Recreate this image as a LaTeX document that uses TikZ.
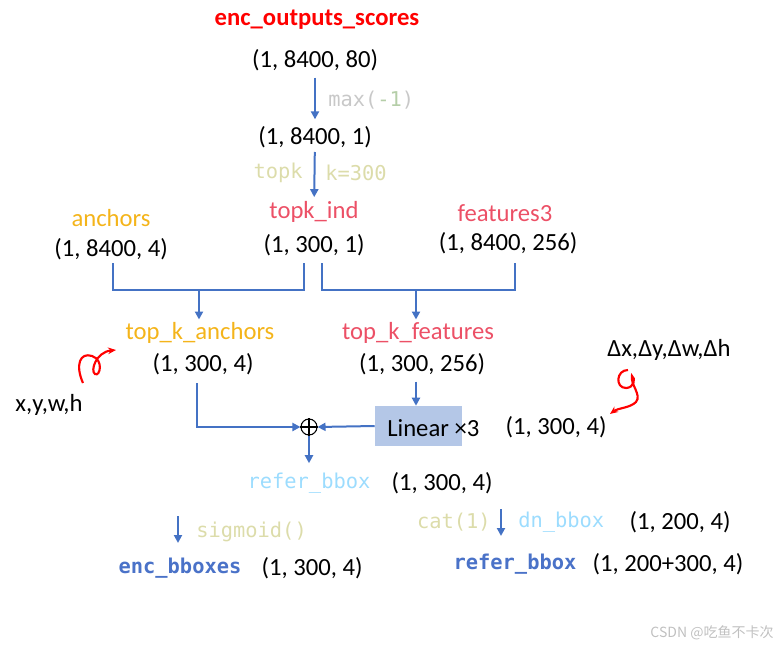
\documentclass[tikz,border=0pt]{standalone}
\usepackage{fontspec}
\setmainfont{Carlito}
\newfontfamily\codefont{DejaVu Sans Mono}
\newfontfamily\cjkfont{Noto Sans CJK SC}
\usetikzlibrary{arrows.meta,calc}
\definecolor{scorered}{HTML}{FF0000}
\definecolor{pinkred}{HTML}{EC5066}
\definecolor{anchororg}{HTML}{F4B41A}
\definecolor{flowblue}{HTML}{4472C4}
\definecolor{boldblue}{HTML}{4A72C8}
\definecolor{lightblue}{HTML}{9CDCFE}
\definecolor{codegray}{HTML}{C8C8C8}
\definecolor{codegreen}{HTML}{B5CEA8}
\definecolor{codekhaki}{HTML}{DCDCAA}
\definecolor{linfill}{HTML}{B4C7E7}
\definecolor{wmgray}{HTML}{C0C0C0}
\tikzset{
  shp/.style={font=\fontsize{18.5}{22}\selectfont, inner sep=0pt},
  code/.style={font=\codefont\fontsize{15.3}{18}\selectfont, inner sep=0pt},
  codebf/.style={font=\codefont\bfseries\fontsize{15.3}{18}\selectfont, inner sep=0pt},
  flow/.style={draw=flowblue, line width=1.5pt, -{Triangle[length=6pt,width=6pt]}},
  link/.style={draw=flowblue, line width=1.5pt},
  sh/.style={shorten <=#1, shorten >=#1},
}
\begin{document}
\begin{tikzpicture}[x=0.75pt,y=-0.75pt]
\useasboundingbox (0,0) rectangle (783,646);
% scores -> max -> topk
\node[shp,font=\bfseries\fontsize{18.5}{22}\selectfont,text=scorered] (scores) at (317,20) {enc\_outputs\_scores};
\node[shp] (s80) at (315,60) {(1, 8400, 80)};
\node[shp] (s1) at (315,137) {(1, 8400, 1)};
\draw[flow,sh=5pt] (s80) -- (s1);
\node[code,anchor=west] (maxop) at (328,100) {\textcolor{codegray}{max(}\textcolor{codegreen}{-1}\textcolor{codegray}{)}};
\node[shp,text=pinkred] (ind) at (314,212) {topk\_ind};
\draw[flow,shorten <=3pt,shorten >=3pt] (s1) -- (ind);
\node[code,text=codekhaki,anchor=east] (topk) at (303,173) {topk};
\node[code,text=codekhaki,anchor=west] (kval) at (325,173) {k=300};
\node[shp] (ind300) at (314,245) {(1, 300, 1)};
% inputs
\node[shp,text=anchororg] (anc) at (111,218) {anchors};
\node[shp] (anc8400) at (111,249) {(1, 8400, 4)};
\node[shp,text=pinkred] (feat) at (505,213) {features3};
\node[shp] (feat8400) at (508,243) {(1, 8400, 256)};
% gather
\coordinate (ja) at (199,290);
\coordinate (jf) at (416,290);
\draw[link] ([shift={(2,14)}]anc8400.center) |- (ja) -| ([shift={(-10,18)}]ind300.center);
\draw[link] ([shift={(8,18)}]ind300.center) |- (jf) -| ([shift={(7,20)}]feat8400.center);
\node[shp,text=anchororg] (tka) at (200,333) {top\_k\_anchors};
\node[shp] (tka300) at (203,364) {(1, 300, 4)};
\node[shp,text=pinkred] (tkf) at (418,333) {top\_k\_features};
\node[shp] (tkf256) at (422,364) {(1, 300, 256)};
\draw[flow,shorten >=2pt] (ja) -- (ja |- tka.north);
\draw[flow,shorten >=2pt] (jf) -- (jf |- tkf.north);
% head
\node[fill=linfill,minimum width=65.25pt,minimum height=30pt,inner sep=0pt] (linbox) at (418.5,426) {};
\node[shp,anchor=west] (lintxt) at (387,428) {Linear ×3};
\draw[flow,shorten <=5pt] (tkf256.south -| jf) -- (linbox.north -| jf);
\node[circle,draw,line width=0.8pt,inner sep=0pt,minimum size=12pt] (add) at (309,427) {};
\draw[line width=0.8pt] (add.north) -- (add.south) (add.west) -- (add.east);
\draw[flow] ([shift={(-6,19)}]tka300.center) |- (add.west);
\draw[flow] (linbox.west) -- (add.east);
\node[shp] (lin300) at (556,427) {(1, 300, 4)};
\node[shp] (delta) at (669,350) {Δx,Δy,Δw,Δh};
\node[shp] (xywh) at (49,405) {x,y,w,h};
% hand marks
\draw[red,line width=1.6pt,-{Stealth[length=6pt,width=5pt]}] (83,383) .. controls (75,365) and (80,352) .. (92,356) .. controls (104,360) and (100,377) .. (95,374) .. controls (90,371) and (96,352) .. (116,350);
\draw[red,line width=1.6pt,-{Stealth[length=6pt,width=5pt]}] (628,370) .. controls (616,370) and (615,388) .. (626,388) .. controls (634,388) and (636,378) .. (632,376) .. controls (630,384) and (642,395) .. (636,402) .. controls (630,408) and (618,408) .. (610,414);
% outputs
\node[code,text=lightblue] (rb) at (309,483) {refer\_bbox};
\node[shp] (rb300) at (442,483) {(1, 300, 4)};
\draw[flow,shorten >=7pt] (add.south) -- (rb.north);
\coordinate (sigtop) at (178,516);
\coordinate (sigbot) at (178,543);
\draw[flow] (sigtop) -- (sigbot);
\node[code,text=codekhaki,anchor=west] (sig) at (196,532) {sigmoid()};
\node[codebf,text=boldblue] (encb) at (180,568) {enc\_bboxes};
\node[shp] (enc300) at (312,568) {(1, 300, 4)};
\node[code,text=codekhaki,anchor=east] (cat) at (491,522) {cat(1)};
\coordinate (cattop) at (501,509);
\coordinate (catbot) at (501,536);
\draw[flow] (cattop) -- (catbot);
\node[code,text=lightblue,anchor=west] (dn) at (518,522) {dn\_bbox};
\node[shp] (dn200) at (680,522) {(1, 200, 4)};
\node[codebf,text=boldblue] (rb2) at (515,564) {refer\_bbox};
\node[shp] (rb2sz) at (668,564) {(1, 200+300, 4)};
\node[text=wmgray,font=\cjkfont\fontsize{10.5}{12}\selectfont,inner sep=0pt] (wm) at (712,633) {CSDN @吃鱼不卡次};
\end{tikzpicture}
\end{document}
